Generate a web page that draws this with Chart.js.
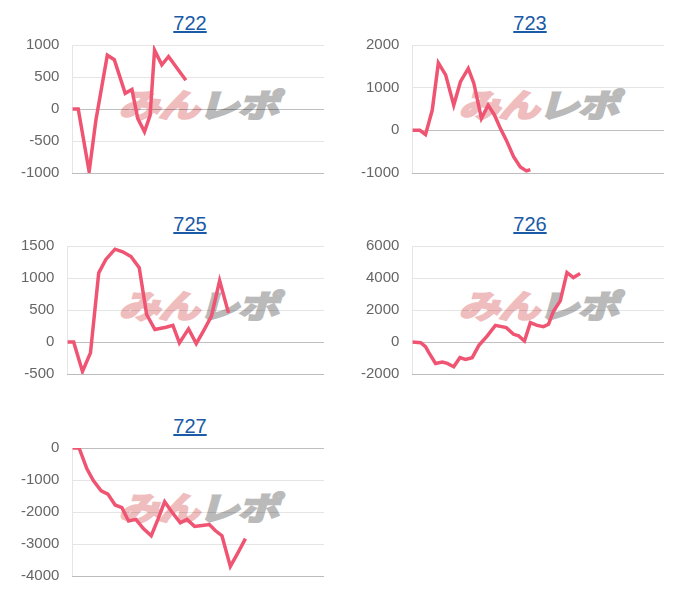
<!DOCTYPE html>
<html>
<head>
<meta charset="utf-8">
<script src="https://cdn.jsdelivr.net/npm/chart.js@4.4.1/dist/chart.umd.min.js"></script>
<style>
body { margin: 0; background: #fff; font-family: Arial, "Liberation Sans", sans-serif; }
.cell { position: absolute; width: 340px; height: 201px; }
.cell a { position: absolute; left: 0; width: 380px; top: 11px; text-align: center; font-size: 20px; line-height: 24px; color: #1a5aa6; text-decoration: underline; }
.cell canvas { position: absolute; left: 8px; top: 23px; z-index: 2; }
.logo { position: absolute; left: 128px; top: 85px; z-index: 1; font-family: "Noto Sans CJK JP"; font-weight: bold; font-size: 32px; line-height: 36px; white-space: nowrap; transform: skewX(-16deg) scaleX(1.28); transform-origin: left top; letter-spacing: -1px; }
.logo .p { color: #efbdbe; -webkit-text-stroke: 2.5px #efbdbe; }
.logo .g { color: #bababa; -webkit-text-stroke: 2.5px #bababa; }
</style>
</head>
<body>
<script>
// machine numbers
const titles = ['722', '723', '725', '726', '727'];

// x = games played, y = coin difference
const games722 = [0, 210, 600, 840, 1250, 1500, 1890, 2130, 2340, 2580, 2780, 2940, 3200, 3440, 4060];
const diff722  = [0, 0, -980, -180, 840, 770, 245, 305, -150, -355, -100, 920, 690, 820, 450];

const games723 = [0, 270, 470, 710, 930, 1190, 1480, 1720, 2000, 2200, 2470, 2710, 2940, 3150, 3360, 3620, 3860, 4080, 4220];
const diff723  = [0, 0, -100, 470, 1580, 1300, 590, 1140, 1450, 1100, 280, 590, 355, 40, -230, -620, -860, -950, -920];

const games725 = [0, 220, 530, 810, 1100, 1350, 1670, 1940, 2230, 2520, 2780, 3070, 3460, 3700, 3930, 4250, 4520, 4770, 5050, 5340, 5650];
const diff725  = [0, 0, -460, -170, 1080, 1290, 1450, 1410, 1335, 1160, 430, 195, 230, 260, -15, 205, -25, 170, 400, 960, 455];

const games726 = [0, 300, 470, 590, 830, 1070, 1250, 1480, 1700, 1900, 2140, 2380, 2680, 2970, 3360, 3620, 3800, 4010, 4220, 4460, 4690, 4870, 5050, 5290, 5530, 5760, 6000];
const diff726  = [0, -40, -290, -670, -1340, -1250, -1340, -1545, -980, -1090, -980, -210, 380, 1040, 900, 480, 380, 60, 1210, 1040, 960, 1110, 1940, 2570, 4340, 4030, 4280];

const games727 = [0, 240, 520, 750, 1030, 1270, 1530, 1770, 2010, 2270, 2540, 2820, 3060, 3300, 3560, 3860, 4100, 4370, 4640, 4900, 5110, 5350, 5650, 5930, 6190];
const diff727  = [0, 0, -650, -1020, -1340, -1440, -1780, -1860, -2280, -2230, -2520, -2740, -2230, -1680, -2000, -2340, -2230, -2450, -2420, -2390, -2580, -2740, -3700, -3260, -2830];

const allGames = [games722, games723, games725, games726, games727];
const allDiffs = [diff722, diff723, diff725, diff726, diff727];

// y axis ticks per chart
const yMin  = [-1000, -1000, -500, -2000, -4000];
const yMax  = [1000, 2000, 1500, 6000, 0];
const yStep = [500, 1000, 500, 2000, 1000];
const xMax = 9000;

const LINE_COLOR = '#ef5572';

titles.forEach((name, i) => {
    const col = i % 2;
    const row = Math.floor(i / 2);

    const cell = document.createElement('div');
    cell.className = 'cell';
    cell.style.left = (col * 340) + 'px';
    cell.style.top = (row * 201.3) + 'px';
    cell.innerHTML = '<a href="#">' + name + '</a>' +
        '<div class="logo"><span class="p">みん</span><span class="g">レポ</span></div>';

    const canvas = document.createElement('canvas');
    canvas.width = 316;
    canvas.height = 172;
    cell.appendChild(canvas);
    document.body.appendChild(cell);

    const points = allGames[i].map((g, k) => ({ x: g, y: allDiffs[i][k] }));

    new Chart(canvas, {
        type: 'line',
        data: {
            datasets: [{
                data: points,
                borderColor: LINE_COLOR,
                borderWidth: 3.5,
                pointRadius: 0,
                tension: 0,
                fill: false
            }]
        },
        options: {
            responsive: false,
            animation: false,
            plugins: {
                legend: { display: false },
                tooltip: { enabled: false }
            },
            scales: {
                x: {
                    type: 'linear',
                    min: 0,
                    max: xMax,
                    ticks: { display: false },
                    grid: { display: false, drawTicks: false },
                    border: { display: true, color: 'rgba(0,0,0,0.18)' }
                },
                y: {
                    min: yMin[i],
                    max: yMax[i],
                    ticks: {
                        stepSize: yStep[i],
                        color: '#666',
                        padding: 13,
                        font: { size: 15, family: 'Arial, "Liberation Sans", sans-serif' },
                        callback: v => String(v)
                    },
                    grid: {
                        drawTicks: false,
                        color: ctx => (ctx.tick && ctx.tick.value === 0) ? 'rgba(0,0,0,0.25)' : 'rgba(0,0,0,0.1)'
                    },
                    border: { color: 'rgba(0,0,0,0.1)' }
                }
            }
        }
    });
});
</script>
</body>
</html>
